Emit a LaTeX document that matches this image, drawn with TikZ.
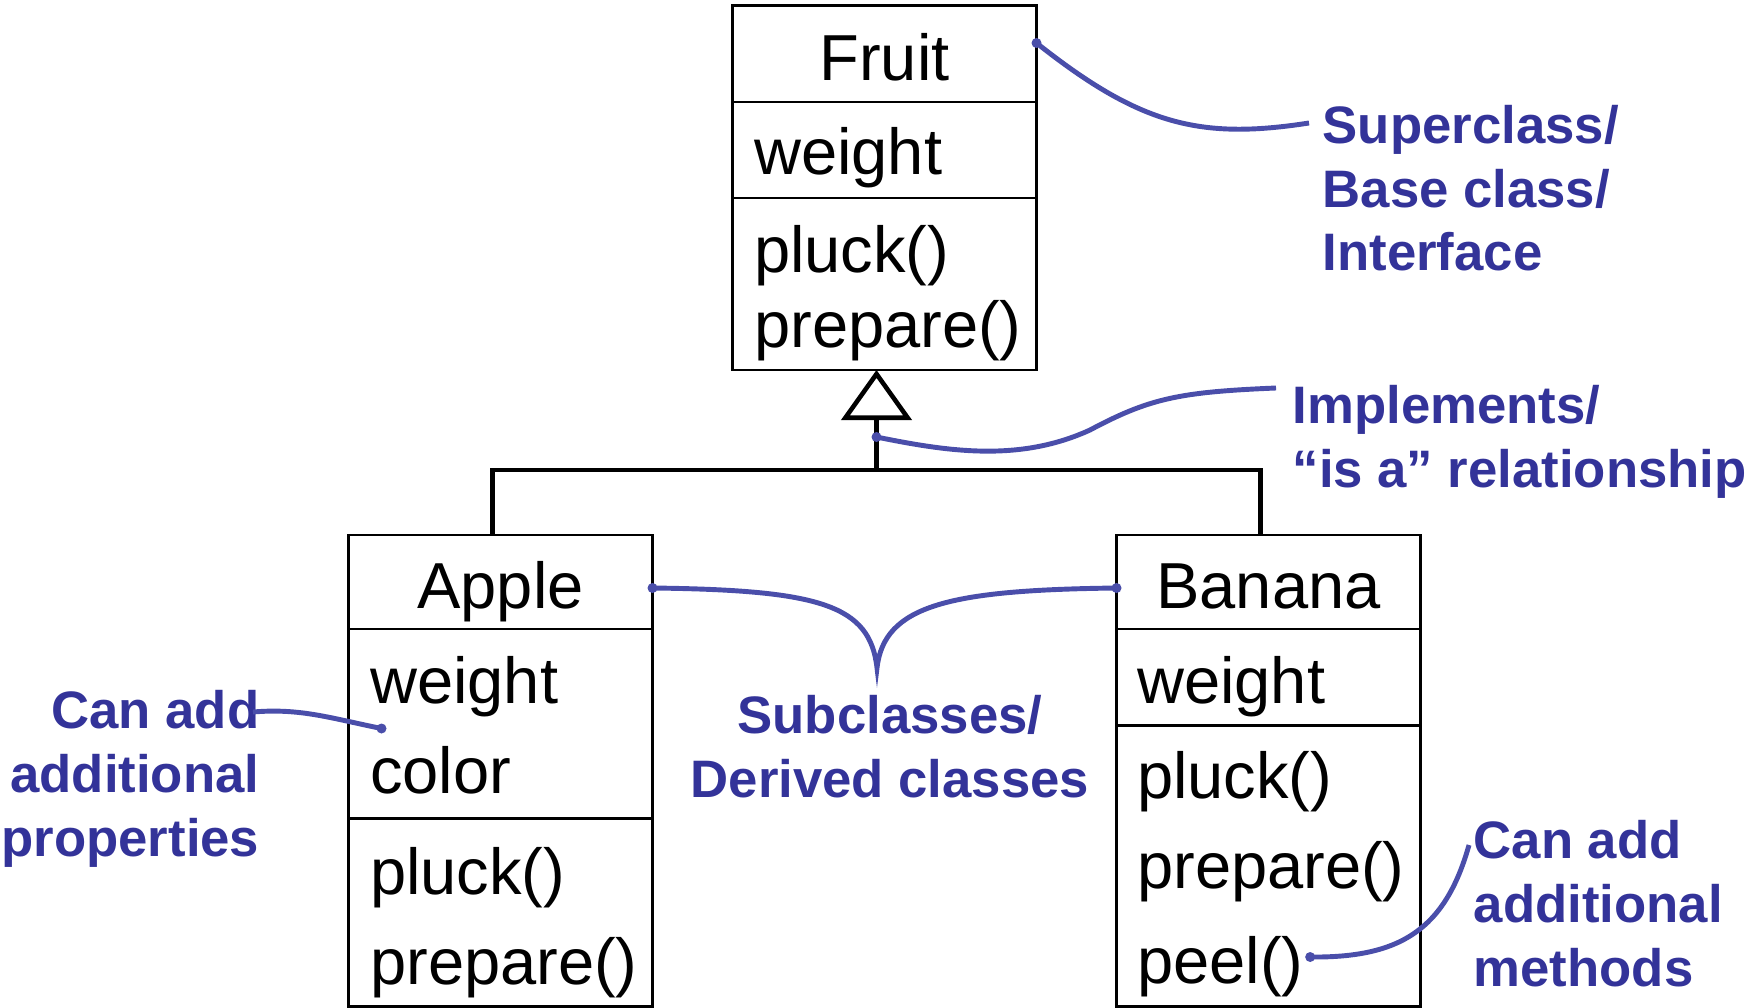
\documentclass[tikz,border=0pt]{standalone}
\usepackage{fontspec}
\setmainfont{Liberation Sans}
\usepackage{xcolor}
\usepackage{tikz}
\usetikzlibrary{arrows.meta,positioning}

\definecolor{notetext}{HTML}{333399}
\definecolor{noteline}{HTML}{4A4EAA}

\tikzset{
  compartment/.style={draw, line width=0.85pt, minimum width=3.04cm, inner sep=0pt, outer sep=0pt,
    font=\fontsize{18.5}{22}\selectfont, text height=14.8pt, text depth=0pt},
  member/.style={anchor=base west, inner sep=0pt, font=\fontsize{18.5}{22}\selectfont},
  generalization/.style={line width=1.3pt},
  note/.style={inner sep=0pt, text=notetext, font=\bfseries\fontsize{15}{18.2}\selectfont},
  pointer/.style={draw=noteline, line width=1.4pt},
}

\begin{document}
\begin{tikzpicture}
\useasboundingbox (0,0) rectangle (17.5,-10.08);

% base class
\node[compartment, minimum height=0.96cm] (fruit) at (8.845,-0.54) {Fruit};
\node[compartment, minimum height=0.96cm, below=0pt of fruit] (fruit-attr) {};
\node[compartment, minimum height=1.72cm, below=0pt of fruit-attr] (fruit-ops) {};
\node[member] (fruit-weight) at ([shift={(0.21,-0.73)}]fruit-attr.north west) {weight};
\node[member] (fruit-pluck) at ([shift={(0.21,-0.74)}]fruit-ops.north west) {pluck()};
\node[member] (fruit-prepare) at ([shift={(0.21,-1.49)}]fruit-ops.north west) {prepare()};

% subclasses
\node[compartment, minimum height=0.94cm] (apple) at (5.005,-5.82) {Apple};
\node[compartment, minimum height=1.89cm, below=0pt of apple] (apple-attr) {};
\node[compartment, minimum height=1.88cm, below=0pt of apple-attr] (apple-ops) {};
\node[member] (apple-weight) at ([shift={(0.21,-0.74)}]apple-attr.north west) {weight};
\node[member] (apple-color) at ([shift={(0.21,-1.64)}]apple-attr.north west) {color};
\node[member] (apple-pluck) at ([shift={(0.21,-0.76)}]apple-ops.north west) {pluck()};
\node[member] (apple-prepare) at ([shift={(0.21,-1.66)}]apple-ops.north west) {prepare()};

\node[compartment, minimum height=0.94cm] (banana) at (12.685,-5.82) {Banana};
\node[compartment, minimum height=0.96cm, below=0pt of banana] (banana-attr) {};
\node[compartment, minimum height=2.81cm, below=0pt of banana-attr] (banana-ops) {};
\node[member] (banana-weight) at ([shift={(0.20,-0.74)}]banana-attr.north west) {weight};
\node[member] (banana-pluck) at ([shift={(0.20,-0.73)}]banana-ops.north west) {pluck()};
\node[member] (banana-prepare) at ([shift={(0.20,-1.63)}]banana-ops.north west) {prepare()};
\node[member] (banana-peel) at ([shift={(0.20,-2.58)}]banana-ops.north west) {peel()};

% inheritance
\coordinate (fork) at ([xshift=-0.08cm, yshift=-1cm]fruit-ops.south);
\coordinate (isa) at ([yshift=0.33cm]fork);
\draw[generalization] ([xshift=-0.08cm]apple.north) |- (fork) -| ([xshift=-0.08cm]banana.north);
\draw[generalization, -{Triangle[open, length=0.5cm, width=0.7cm]}] (fork) -- ([xshift=-0.08cm]fruit-ops.south);

% notes (base = last line)
\node[note, anchor=base west, align=left] (super-note) at (13.22,-2.71) {Superclass/\\Base class/\\Interface};
\node[note, anchor=base west, align=left] (isa-note) at (12.92,-4.87) {Implements/\\“is a” relationship};
\node[note, anchor=base, align=center] (sub-note) at (8.90,-7.97) {Subclasses/\\Derived classes};
\node[note, anchor=base east, align=right] (prop-note) at (2.60,-8.56) {Can add\\additional\\properties};
\node[note, anchor=base west, align=left] (meth-note) at (14.73,-9.86) {Can add\\additional\\methods};

\coordinate (cusp) at ([shift={(-0.13,1.29)}]sub-note.base);

% pointers from the notes
\draw[pointer] ([yshift=0.11cm]fruit.east) .. controls (11.40,-1.25) and (12.00,-1.40) .. ([shift={(-0.13,1.48)}]super-note.base west);
\fill[noteline] ([yshift=0.11cm]fruit.east) circle (0.05);

\draw[pointer] (isa) .. controls (9.50,-4.52) and (10.20,-4.62) .. (10.90,-4.30)
  .. controls (11.50,-3.98) and (11.80,-3.92) .. ([shift={(-0.16,0.99)}]isa-note.base west);
\fill[noteline] (isa) circle (0.05);

\draw[pointer] ([yshift=-0.06cm]apple.east) .. controls (8.20,-5.90) and (8.70,-6.05) .. (cusp)
  .. controls (8.84,-6.05) and (9.50,-5.90) .. ([yshift=-0.06cm]banana.west);
\fill[noteline] ([yshift=-0.06cm]apple.east) circle (0.05);
\fill[noteline] ([yshift=-0.06cm]banana.west) circle (0.05);

\draw[pointer] ([shift={(-0.07,1.44)}]prop-note.base east) .. controls (3.00,-7.08) and (3.30,-7.18) .. ([shift={(0.33,-0.05)}]apple-attr.west);
\fill[noteline] ([shift={(0.33,-0.05)}]apple-attr.west) circle (0.05);

\draw[pointer] ([shift={(0.06,0.26)}]banana-peel.base east) .. controls (14.00,-9.58) and (14.45,-9.30) .. ([shift={(-0.04,1.41)}]meth-note.base west);
\fill[noteline] ([shift={(0.06,0.26)}]banana-peel.base east) circle (0.05);
\end{tikzpicture}
\end{document}
